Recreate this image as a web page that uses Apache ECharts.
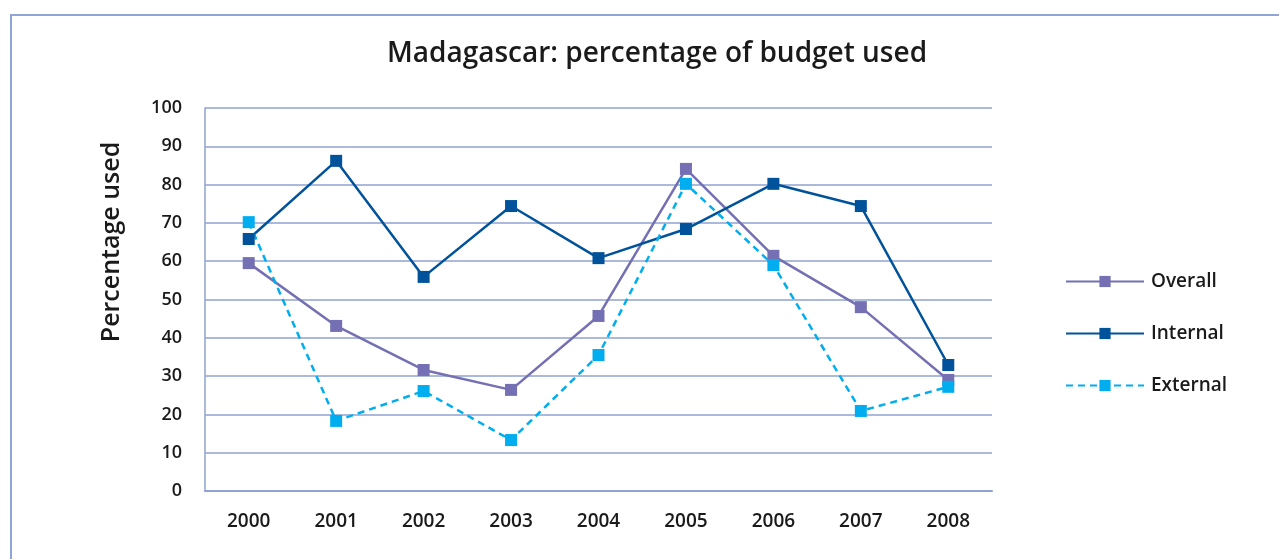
<!DOCTYPE html>
<html>
<head>
<meta charset="utf-8">
<script src="https://cdn.jsdelivr.net/npm/echarts@6/dist/echarts.min.js"></script>
<style>
  html, body { margin: 0; padding: 0; background: #fff; }
  #chart { width: 1279px; height: 559px; }
</style>
</head>
<body>
<div id="chart"></div>
<script>
const years = ["2000", "2001", "2002", "2003", "2004", "2005", "2006", "2007", "2008"];
const overall = [59.5, 43.1, 31.6, 26.4, 45.7, 84.1, 61.4, 48.0, 29.0];
const internal = [65.8, 86.2, 55.9, 74.4, 60.8, 68.4, 80.2, 74.4, 32.9];
const external = [70.2, 18.3, 26.1, 13.3, 35.5, 80.2, 59.0, 20.9, 27.2];

const font = "'Open Sans', 'Noto Sans', sans-serif";
const gridColor = "#8fa3d1";
const ink = "#1a1a1a";

const chart = echarts.init(document.getElementById("chart"));

const mkSeries = (name, data, color, type) => ({
  name,
  type: "line",
  data,
  symbol: "rect",
  symbolSize: 12,
  itemStyle: { color },
  lineStyle: { color, width: 2.5, type },
  animation: false,
});

chart.setOption({
  textStyle: { fontFamily: font },
  title: {
    text: "Madagascar: percentage of budget used",
    left: 652,
    textAlign: "center",
    top: 35,
    textStyle: { fontSize: 28, fontWeight: 600, color: ink, fontFamily: font },
  },
  graphic: [
    {
      type: "rect",
      shape: { x: 11, y: 15, width: 1400, height: 700 },
      style: { fill: "none", stroke: "#8fa6d4", lineWidth: 2 },
      silent: true,
    },
    {
      type: "text",
      x: 112,
      y: 242,
      rotation: Math.PI / 2,
      style: {
        text: "Percentage used",
        fontSize: 25,
        fontWeight: 600,
        fontFamily: font,
        fill: ink,
        align: "center",
        verticalAlign: "middle",
      },
    },
  ],
  legend: {
    orient: "vertical",
    left: 1060,
    top: 267,
    itemWidth: 78,
    itemHeight: 14,
    itemGap: 33,
    textStyle: { fontSize: 19, fontWeight: 600, color: ink, fontFamily: font, padding: [0, 0, 0, 2] },
    data: ["Overall", "Internal", "External"],
  },
  grid: { left: 205, right: 287, top: 108, bottom: 68 },
  xAxis: {
    type: "category",
    data: years,
    boundaryGap: true,
    axisLine: { lineStyle: { color: gridColor, width: 2 } },
    axisTick: { show: false },
    axisLabel: { fontSize: 19, color: ink, margin: 21, fontWeight: 600 },
  },
  yAxis: {
    type: "value",
    min: 0,
    max: 100,
    interval: 10,
    axisLine: { show: true, lineStyle: { color: gridColor, width: 1.5 } },
    axisTick: { show: false },
    axisLabel: { fontSize: 18, color: ink, margin: 23, fontWeight: 600 },
    splitLine: { lineStyle: { color: gridColor, width: 1.5 } },
  },
  series: [
    mkSeries("Overall", overall, "#7470b3", "solid"),
    mkSeries("Internal", internal, "#00529b", "solid"),
    mkSeries("External", external, "#00aeef", [7, 5]),
  ],
});
</script>
</body>
</html>
